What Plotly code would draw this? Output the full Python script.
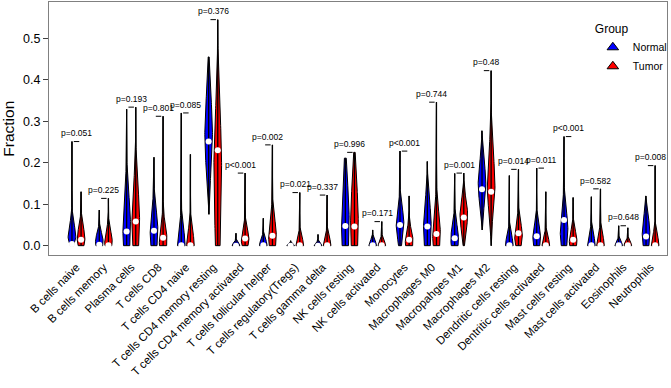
import numpy as np
import plotly.graph_objects as go

categories = [
    "B cells naive", "B cells memory", "Plasma cells", "T cells CD8", "T cells CD4 naive",
    "T cells CD4 memory resting", "T cells CD4 memory activated", "T cells follicular helper",
    "T cells regulatory(Tregs)", "T cells gamma delta", "NK cells resting", "NK cells activated",
    "Monocytes", "Macrophages M0", "Macropahges M1", "Macrophages M2", "Dendritic cells resting",
    "Dentritic cells activated", "Mast cells resting", "Mast cells activated", "Eosinophils",
    "Neutrophils",
]
p_labels = [
    "p=0.051", "p=0.225", "p=0.193", "p=0.801", "p=0.085", "p=0.376", "p<0.001", "p=0.002",
    "p=0.021", "p=0.337", "p=0.996", "p=0.171", "p<0.001", "p=0.744", "p=0.001", "p=0.48",
    "p=0.014", "p=0.011", "p<0.001", "p=0.582", "p=0.648", "p=0.008",
]

# Normal group
normal_min = [0, 0, 0, 0, 0, 0.0755, 0, 0, 0, 0, 0, 0, 0, 0, 0, 0.038, 0, 0, 0, 0, 0, 0]
normal_max = [0.251, 0.086, 0.329, 0.213, 0.320, 0.455, 0.030, 0.066, 0.012, 0.027, 0.211,
              0.038, 0.228, 0.203, 0.174, 0.277, 0.169, 0.187, 0.263, 0.118, 0.048, 0.120]
normal_median = [0.004, 0.002, 0.034, 0.036, 0.001, 0.251, 0.0, 0.001, 0.0, 0.0, 0.0475,
                 0.001, 0.050, 0.046, 0.018, 0.136, 0.001, 0.023, 0.062, 0.001, 0.001, 0.022]
normal_mode = [0.02, 0.01, 0.05, 0.04, 0.0, 0.27, 0.0, 0.0, 0.0, 0.0, 0.06,
               0.0, 0.055, 0.05, 0.015, 0.15, 0.0, 0.02, 0.04, 0.0, 0.0, 0.03]
normal_spread_low = [0.015, 0.02, 0.08, 0.06, 0.02, 0.09, 0.01, 0.01, 0.004, 0.006, 0.10,
                     0.012, 0.04, 0.07, 0.03, 0.05, 0.025, 0.03, 0.05, 0.025, 0.01, 0.04]
normal_spread_high = [0.03, 0.02, 0.07, 0.045, 0.04, 0.09, 0.007, 0.015, 0.004, 0.006, 0.09,
                      0.012, 0.035, 0.055, 0.035, 0.05, 0.025, 0.03, 0.045, 0.025, 0.01, 0.04]

# Tumor group
tumor_min = [0] * 22
tumor_max = [0.130, 0.114, 0.334, 0.312, 0.220, 0.545, 0.175, 0.243, 0.128, 0.122, 0.225,
             0.058, 0.120, 0.346, 0.175, 0.422, 0.184, 0.130, 0.116, 0.137, 0.043, 0.193]
tumor_median = [0.014, 0.001, 0.058, 0.019, 0.001, 0.230, 0.017, 0.024, 0.001, 0.001, 0.046,
                0.001, 0.014, 0.028, 0.068, 0.130, 0.030, 0.001, 0.014, 0.001, 0.001, 0.001]
tumor_mode = [0.015, 0.01, 0.06, 0.015, 0.0, 0.20, 0.015, 0.025, 0.0, 0.0, 0.06,
              0.0, 0.012, 0.03, 0.075, 0.14, 0.025, 0.0, 0.01, 0.0, 0.0, 0.0]
tumor_spread_low = [0.02, 0.02, 0.08, 0.04, 0.02, 0.20, 0.02, 0.04, 0.02, 0.02, 0.10,
                    0.012, 0.03, 0.05, 0.04, 0.055, 0.03, 0.02, 0.02, 0.025, 0.01, 0.025]
tumor_spread_high = [0.03, 0.025, 0.08, 0.035, 0.035, 0.12, 0.025, 0.04, 0.02, 0.02, 0.09,
                     0.012, 0.025, 0.05, 0.035, 0.08, 0.03, 0.02, 0.025, 0.025, 0.01, 0.025]

HALF_WIDTH = 0.42
n = len(categories)
normal_pos = [3 * i for i in range(n)]
tumor_pos = [3 * i + 1 for i in range(n)]


def violin_outline(pos, lo, hi, mode, s_lo, s_hi):
    y = np.linspace(lo, hi, 80)
    d = y - mode
    s = np.where(d < 0, s_lo, s_hi)
    w = np.exp(-0.5 * (d / s) ** 2)
    w = w / w.max() * HALF_WIDTH
    xs = np.concatenate([pos + w, (pos - w)[::-1], [pos + w[0]]])
    ys = np.concatenate([y, y[::-1], [y[0]]])
    return xs, ys


fig = go.Figure()

groups = [
    ("Normal", "#0000FF", normal_pos, normal_min, normal_max, normal_median, normal_mode,
     normal_spread_low, normal_spread_high),
    ("Tumor", "#FF0000", tumor_pos, tumor_min, tumor_max, tumor_median, tumor_mode,
     tumor_spread_low, tumor_spread_high),
]

for name, color, pos, mn, mx, med, mode, slo, shi in groups:
    for i in range(n):
        xs, ys = violin_outline(pos[i], mn[i], mx[i], mode[i], slo[i], shi[i])
        fig.add_trace(go.Scatter(x=xs, y=ys, mode="lines", fill="toself", fillcolor=color,
                                 line=dict(color="black", width=1), showlegend=False,
                                 hoverinfo="skip"))

# center whisker lines
for name, color, pos, mn, mx, med, mode, slo, shi in groups:
    lx, ly = [], []
    for i in range(n):
        lx += [pos[i], pos[i], None]
        ly += [mn[i], mx[i], None]
    fig.add_trace(go.Scatter(x=lx, y=ly, mode="lines", line=dict(color="black", width=1.3),
                             showlegend=False, hoverinfo="skip"))

# medians
for name, color, pos, mn, mx, med, mode, slo, shi in groups:
    fig.add_trace(go.Scatter(x=pos, y=med, mode="markers",
                             marker=dict(color="white", size=6, line=dict(width=0)),
                             showlegend=False, hoverinfo="skip"))

# brackets and p-values
bx, by = [], []
top_vals = [max(a, b) for a, b in zip(normal_max, tumor_max)]
for i in range(n):
    bx += [3 * i + 0.2, 3 * i + 0.8, None]
    by += [top_vals[i], top_vals[i], None]
    fig.add_annotation(x=3 * i + 0.5, y=top_vals[i] + 0.02, text=p_labels[i], showarrow=False,
                       font=dict(size=8.5, color="black", family="Liberation Sans, Arial"),
                       xanchor="center", yanchor="middle")
fig.add_trace(go.Scatter(x=bx, y=by, mode="lines", line=dict(color="black", width=1),
                         showlegend=False, hoverinfo="skip"))

# legend entries
for name, color in [("Normal", "#0000FF"), ("Tumor", "#FF0000")]:
    fig.add_trace(go.Scatter(x=[None], y=[None], mode="markers", name=name,
                             marker=dict(symbol="triangle-up", size=10, color=color,
                                         line=dict(color="black", width=1))))

# y-axis title
fig.add_annotation(text="Fraction", xref="paper", yref="paper", x=-0.066, y=0.5,
                   textangle=-90, showarrow=False, font=dict(size=15.5, color="black"),
                   xanchor="center", yanchor="middle")

fig.update_layout(
    width=671, height=388,
    margin=dict(l=49, r=4, t=2, b=133, autoexpand=False),
    paper_bgcolor="white", plot_bgcolor="white",
    font=dict(family="Liberation Sans, Arial", color="black"),
    legend=dict(title=dict(text="Group", font=dict(size=12)), font=dict(size=10.5),
                x=0.88, y=0.94, xanchor="left", yanchor="top", bgcolor="rgba(0,0,0,0)",
                itemwidth=30, tracegroupgap=0),
    xaxis=dict(range=[-2.52, 65.3], tickmode="array", automargin=False,
               tickvals=[3 * i + 0.5 for i in range(n)], ticktext=categories,
               tickangle=-45, tickfont=dict(size=11.5), ticks="", showgrid=False,
               zeroline=False, showline=True, linecolor="#808080", linewidth=1, mirror=True),
    yaxis=dict(range=[-0.0225, 0.5875], tickmode="array", automargin=False,
               tickvals=[0, 0.1, 0.2, 0.3, 0.4, 0.5],
               ticktext=["0.0", "0.1", "0.2", "0.3", "0.4", "0.5"],
               ticks="outside", ticklen=5, tickcolor="#404040", tickfont=dict(size=12.5),
               showgrid=False, zeroline=False, showline=True, linecolor="#808080",
               linewidth=1, mirror=True),
)

fig.write_html("out.html", config={"displayModeBar": False},
               post_script="document.body.style.margin='0px';")
